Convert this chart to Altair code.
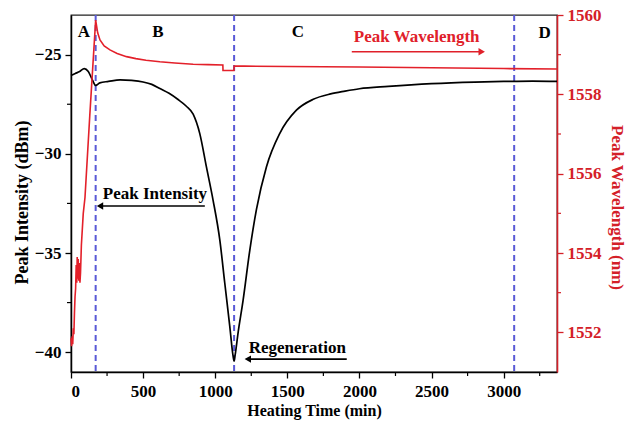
import altair as alt
import pandas as pd

# ---------------- data ----------------
time_int = [0, 30, 60, 92, 120, 150, 171, 200, 260, 340, 420, 500, 560, 620, 680,
            740, 800, 847, 893, 939, 985, 1032, 1066, 1101, 1124, 1131, 1138, 1159,
            1193, 1240, 1286, 1355, 1447, 1563, 1680, 1800, 1900, 2000, 2200, 2500,
            2800, 3000, 3200, 3370]
intensity = [-26.05, -25.95, -25.85, -25.7, -25.85, -26.3, -26.55, -26.42, -26.35,
             -26.27, -26.3, -26.38, -26.5, -26.72, -26.95, -27.25, -27.6, -28.0,
             -28.98, -30.66, -32.33, -34.35, -36.5, -38.7, -40.2, -40.45, -40.15, -39.0,
             -37.4, -34.85, -32.8, -30.66, -28.98, -27.8, -27.25, -26.98, -26.84, -26.72,
             -26.6, -26.46, -26.38, -26.35, -26.33, -26.35]

time_wl = [0, 4, 8, 12, 16, 20, 24, 28, 32, 36, 40, 43, 46, 50, 54, 58, 62, 66, 72,
           85, 97, 130, 171, 185, 201, 230, 270, 320, 385, 450, 520, 616, 720, 847,
           950, 1053, 1054, 1130, 1131, 1200, 1500, 2000, 2500, 3000, 3370]
wavelength = [1551.85, 1551.65, 1551.9, 1551.7, 1552.1, 1551.95, 1552.5, 1552.9,
              1553.1, 1553.7, 1553.25, 1553.9, 1553.35, 1553.85, 1553.3, 1553.75,
              1553.25, 1553.5, 1554.2, 1555.0, 1555.4, 1557.45, 1559.87, 1559.55,
              1559.37, 1559.22, 1559.12, 1559.03, 1558.95, 1558.9, 1558.86, 1558.82,
              1558.79, 1558.76, 1558.75, 1558.74, 1558.6, 1558.6, 1558.71, 1558.71,
              1558.7, 1558.69, 1558.67, 1558.65, 1558.64]

x_ticks = [0, 500, 1000, 1500, 2000, 2500, 3000]
x_minor = [250, 750, 1250, 1750, 2250, 2750, 3250]
int_ticks = [-40, -35, -30, -25]
int_minor = [-37.5, -32.5, -27.5]
wl_ticks = [1552, 1554, 1556, 1558, 1560]
wl_minor = [1553, 1555, 1557, 1559]

stage_bounds = [171, 1131, 3073]
stage_labels = ["A", "B", "C", "D"]
stage_label_time = [90, 603, 1573, 3284]
stage_label_level = [-23.86, -23.86, -23.86, -23.9]

note_labels = ["Peak Wavelength", "Peak Intensity", "Regeneration"]
note_time = [2397, 582, 1569]
note_level = [-24.11, -32.03, -39.79]
note_colors = ["#e0202a", "black", "black"]

arrow_from = [1947, 928, 1912]
arrow_to = [2848, 201, 1226]
arrow_level = [-24.85, -32.63, -40.35]
arrow_shapes = ["triangle-right", "triangle-left", "triangle-left"]

# ---------------- styles ----------------
FONT = "Liberation Serif"
RED = "#e3202a"
AXRED = "#d42028"
BLUE = "#5a5ad6"

X_DOMAIN = [0, 3370]
INT_DOMAIN = [-41, -23]
WL_DOMAIN = [1551, 1560]

df_int = pd.DataFrame({"time": time_int, "intensity": intensity})
df_wl = pd.DataFrame({"time": time_wl, "wl": wavelength})
df_stage = pd.DataFrame({"time": stage_bounds})
df_xminor = pd.DataFrame({"time": x_minor})
df_intminor = pd.DataFrame({"intensity": int_minor})
df_wlminor = pd.DataFrame({"wl": wl_minor})
df_letters = pd.DataFrame({"time": stage_label_time, "intensity": stage_label_level,
                           "label": stage_labels})
df_notes = pd.DataFrame({"time": note_time, "intensity": note_level,
                         "label": note_labels, "color": note_colors})
df_arrows = pd.DataFrame({"time": arrow_from, "time2": arrow_to,
                          "intensity": arrow_level, "color": note_colors})
df_heads = pd.DataFrame({"time": arrow_to, "intensity": arrow_level,
                         "shape": arrow_shapes, "color": note_colors})

xs = alt.Scale(domain=X_DOMAIN, nice=False, zero=False)
ys = alt.Scale(domain=INT_DOMAIN, nice=False, zero=False)
ws = alt.Scale(domain=WL_DOMAIN, nice=False, zero=False)

black = alt.Chart(df_int).mark_line(color="black", strokeWidth=1.7,
                                    interpolate="monotone").encode(
    x=alt.X("time:Q", scale=xs,
            axis=alt.Axis(values=x_ticks, title="Heating Time (min)", format="d",
                          titleFontSize=16, titleBaseline="middle", titleY=38,
                          labelPadding=5)),
    y=alt.Y("intensity:Q", scale=ys,
            axis=alt.Axis(values=int_ticks, title="Peak Intensity (dBm)", format="d",
                          titleFontSize=18, titleAngle=-90, titleBaseline="middle",
                          titleX=-49, titleY=187, labelPadding=4)),
)

vlines = alt.Chart(df_stage).mark_rule(color=BLUE, strokeDash=[6, 4], strokeWidth=2).encode(
    x=alt.X("time:Q", scale=xs)
)

xminor = alt.Chart(df_xminor).mark_rule(color="black", strokeWidth=1.2).encode(
    x=alt.X("time:Q", scale=xs), y=alt.value(357), y2=alt.value(361)
)
intminor = alt.Chart(df_intminor).mark_rule(color="black", strokeWidth=1.2).encode(
    y=alt.Y("intensity:Q", scale=ys), x=alt.value(0), x2=alt.value(-4)
)

letters = alt.Chart(df_letters).mark_text(
    font=FONT, fontWeight="bold", fontSize=17, baseline="middle", color="black"
).encode(x=alt.X("time:Q", scale=xs), y=alt.Y("intensity:Q", scale=ys), text="label:N")

notes = alt.Chart(df_notes).mark_text(
    font=FONT, fontWeight="bold", fontSize=17, baseline="middle"
).encode(x=alt.X("time:Q", scale=xs), y=alt.Y("intensity:Q", scale=ys), text="label:N",
         color=alt.Color("color:N", scale=None))

arrows = alt.Chart(df_arrows).mark_rule(strokeWidth=1.6).encode(
    x=alt.X("time:Q", scale=xs), x2="time2:Q", y=alt.Y("intensity:Q", scale=ys),
    color=alt.Color("color:N", scale=None))

heads = alt.Chart(df_heads).mark_point(filled=True, size=55, opacity=1).encode(
    x=alt.X("time:Q", scale=xs), y=alt.Y("intensity:Q", scale=ys),
    shape=alt.Shape("shape:N", scale=None), color=alt.Color("color:N", scale=None))

left = alt.layer(vlines, black, xminor, intminor, letters, notes, arrows, heads)

red = alt.Chart(df_wl).mark_line(color=RED, strokeWidth=1.6).encode(
    x=alt.X("time:Q", scale=xs),
    y=alt.Y("wl:Q", scale=ws,
            axis=alt.Axis(orient="right", values=wl_ticks, title="Peak Wavelength (nm)",
                          format="d", domainColor=AXRED, tickColor=AXRED,
                          labelColor=AXRED, titleColor=AXRED, domainWidth=1.6,
                          titleFontSize=17, titleAngle=90, titleBaseline="middle",
                          titleX=59, titleY=192, labelPadding=4)),
)
wlminor = alt.Chart(df_wlminor).mark_rule(color=AXRED, strokeWidth=1.2).encode(
    y=alt.Y("wl:Q", scale=ws), x=alt.value(486), x2=alt.value(490)
)
right = alt.layer(red, wlminor)

chart = alt.layer(left, right).resolve_scale(y="independent").properties(
    width=486, height=357,
    padding={"left": 71, "top": 15, "right": 70, "bottom": 51},
    autosize=alt.AutoSizeParams(type="none"),
    background="white",
).configure_view(
    stroke="#222222", strokeWidth=1.3
).configure_axis(
    grid=False, domainColor="black", tickColor="black", domainWidth=1.5,
    tickWidth=1.3, tickSize=6, labelFont=FONT, labelFontWeight="bold",
    labelFontSize=17, labelColor="black", titleFont=FONT, titleFontWeight="bold",
    titleColor="black"
)

chart.save("out.html", embed_options={"renderer": "svg", "actions": False})
